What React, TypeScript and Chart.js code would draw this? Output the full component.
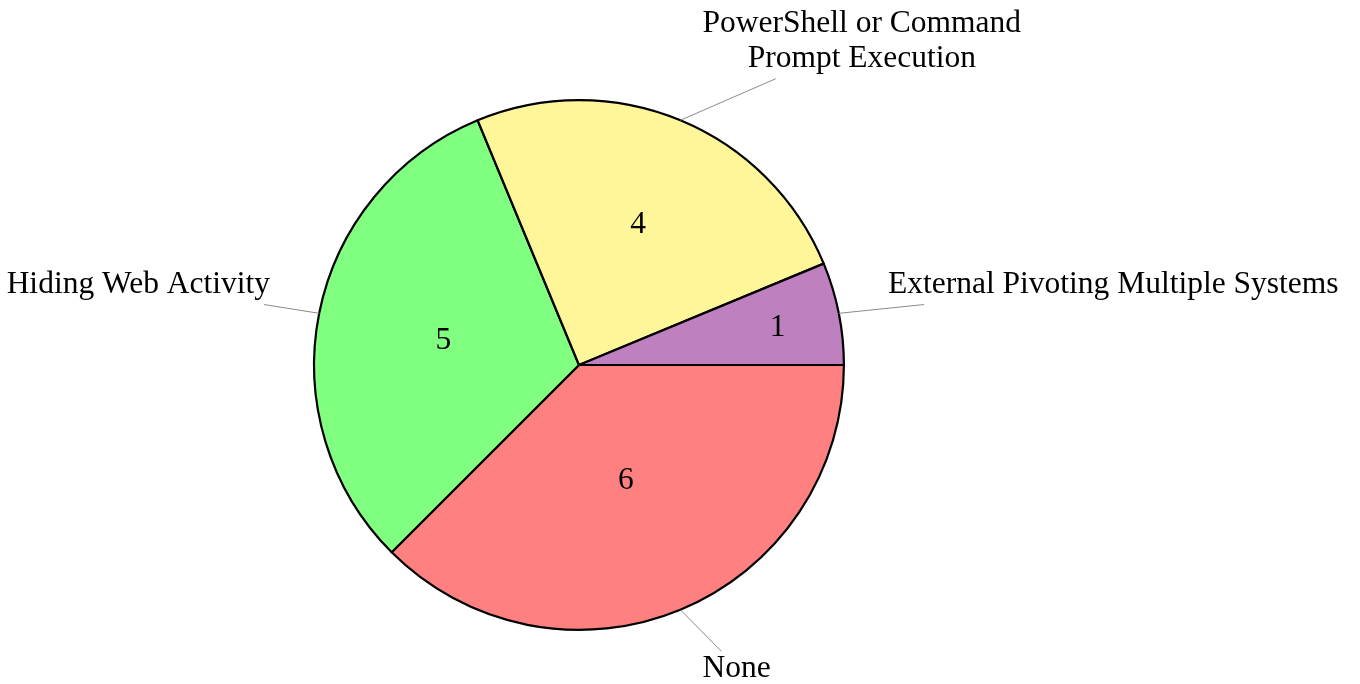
import { useEffect, useRef } from "react";
import { Chart, registerables } from "chart.js";

Chart.register(...registerables);

// Data (clockwise from 3 o'clock, as Chart.js draws)
const categories = [
  "None",
  "Hiding Web Activity",
  "PowerShell or Command\nPrompt Execution",
  "External Pivoting Multiple Systems",
];
const values = [6, 5, 4, 1];
const sliceColors = ["#FF8080", "#80FF80", "#FFF599", "#BF80BF"];

const FONT = '31.5px "Liberation Serif", "Times New Roman", serif';
const PIN_DIST = 45;
const INNER_SEP = 5;
const LINE_SKIP = 35;

const pieLabels = {
  id: "pieLabels",
  afterDatasetsDraw(chart: any) {
    const ctx = chart.ctx as CanvasRenderingContext2D;
    const meta = chart.getDatasetMeta(0);
    const labels = chart.data.labels as string[];
    const data = chart.data.datasets[0].data as number[];
    ctx.save();
    ctx.font = FONT;
    ctx.fillStyle = "#000";
    meta.data.forEach((arc: any, i: number) => {
      const { x, y, startAngle, endAngle, outerRadius } = arc.getProps(
        ["x", "y", "startAngle", "endAngle", "outerRadius"],
        true
      );
      const R = outerRadius;
      const mid = (startAngle + endAngle) / 2;
      const sweep = ((endAngle - startAngle) * 180) / Math.PI;
      const dx = Math.cos(mid);
      const dy = Math.sin(mid);

      // value inside slice
      const frac = 0.825 - 0.00269 * sweep;
      const px = x + dx * R * frac;
      const py = y + dy * R * frac;
      const vt = String(data[i]);
      const vm = ctx.measureText(vt);
      ctx.textAlign = "center";
      ctx.textBaseline = "alphabetic";
      ctx.fillText(
        vt,
        px,
        py + (vm.actualBoundingBoxAscent - vm.actualBoundingBoxDescent) / 2
      );

      // pin label
      const lines = String(labels[i]).split("\n");
      const ms = lines.map((l) => ctx.measureText(l));
      const textW = Math.max(...ms.map((m) => m.width));
      const asc = ms[0].actualBoundingBoxAscent;
      const desc = ms[ms.length - 1].actualBoundingBoxDescent;
      const boxW = textW + 2 * INNER_SEP;
      const boxH = asc + (lines.length - 1) * LINE_SKIP + desc + 2 * INNER_SEP;
      const ex = x + dx * R;
      const ey = y + dy * R;
      const ax = ex + dx * PIN_DIST;
      const ay = ey + dy * PIN_DIST;
      const left = dx > 0.01 ? ax : dx < -0.01 ? ax - boxW : ax - boxW / 2;
      const top = dy < -0.01 ? ay - boxH : dy > 0.01 ? ay : ay - boxH / 2;
      const bx = left + boxW / 2;
      const by = top + boxH / 2;
      const vx = ex - bx;
      const vy = ey - by;
      const s = Math.min(
        boxW / 2 / Math.max(Math.abs(vx), 1e-6),
        boxH / 2 / Math.max(Math.abs(vy), 1e-6)
      );
      const lx = bx + s * vx;
      const ly = by + s * vy;
      ctx.strokeStyle = "#8a8a8a";
      ctx.lineWidth = 1;
      ctx.beginPath();
      ctx.moveTo(ex, ey);
      ctx.lineTo(lx, ly);
      ctx.stroke();

      ctx.textAlign = "center";
      lines.forEach((l, k) => {
        ctx.fillText(l, bx, top + INNER_SEP + asc + k * LINE_SKIP);
      });
    });
    ctx.restore();
  },
};

export default function App() {
  const ref = useRef<HTMLCanvasElement | null>(null);
  useEffect(() => {
    if (!ref.current) return;
    const chart = new Chart(ref.current, {
      type: "pie",
      data: {
        labels: categories,
        datasets: [
          {
            data: values,
            backgroundColor: sliceColors,
            borderColor: "#000000",
            borderWidth: 2.2,
            borderJoinStyle: "round",
            hoverOffset: 0,
          } as any,
        ],
      },
      options: {
        responsive: false,
        maintainAspectRatio: false,
        animation: false,
        rotation: 90,
        layout: { padding: { left: 313, top: 99, right: 515, bottom: 53 } },
        plugins: {
          legend: { display: false },
          tooltip: { enabled: false },
        },
        events: [],
      },
      plugins: [pieLabels],
    });
    return () => chart.destroy();
  }, []);
  return (
    <div style={{ position: "absolute", left: 0, top: 0, width: 1360, height: 684, background: "#fff" }}>
      <canvas ref={ref} width={1360} height={684} style={{ width: 1360, height: 684 }} />
    </div>
  );
}
